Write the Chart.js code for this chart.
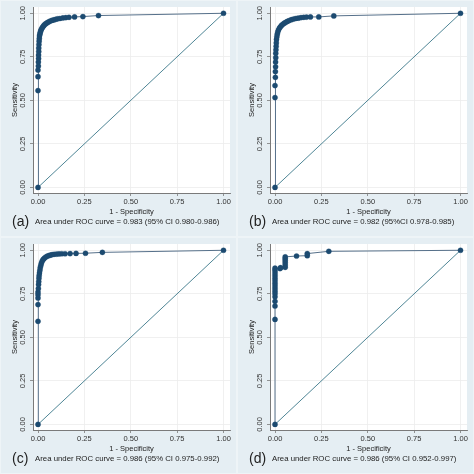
<!DOCTYPE html>
<html><head><meta charset="utf-8">
<script src="https://cdn.jsdelivr.net/npm/chart.js@4.4.0/dist/chart.umd.min.js"></script>
<style>
html,body{margin:0;padding:0;background:#e5eef3;}
#grid{position:relative;width:474px;height:474px;overflow:hidden;}
.panel{position:absolute;width:237px;height:237px;background:#e5eef3;box-sizing:border-box;border:1px solid #eef4f7;}
.panel canvas{position:absolute;left:-1px;top:-1px;}
.lab{position:absolute;left:11px;top:212px;font-family:"Liberation Sans",Arial,sans-serif;font-size:14px;line-height:17px;color:#222;white-space:nowrap;}
.txt{position:absolute;left:34px;top:216px;font-family:"Liberation Sans",Arial,sans-serif;font-size:7.8px;line-height:10px;color:#222;white-space:nowrap;}
</style></head><body>
<div id="grid"></div>
<script>
const tickValues = [0, 0.25, 0.5, 0.75, 1];
const panelLabels = ['(a)', '(b)', '(c)', '(d)'];
const aucCaptions = [
  'Area under ROC curve = 0.983 (95% CI 0.980-0.986)',
  'Area under ROC curve = 0.982 (95%CI 0.978-0.985)',
  'Area under ROC curve = 0.986 (95% CI 0.975-0.992)',
  'Area under ROC curve = 0.986 (95% CI 0.952-0.997)'
];
const diagX = [0, 1];
const diagY = [0, 1];

const fprA = [0, 0, 0, 0, 0.002, 0.002, 0.003, 0.003, 0.004, 0.004, 0.005, 0.006, 0.007, 0.008, 0.010, 0.012, 0.015, 0.018, 0.022, 0.026, 0.031, 0.036, 0.042, 0.050, 0.058, 0.066, 0.075, 0.085, 0.095, 0.105, 0.118, 0.134, 0.150, 0.167, 0.197, 0.242, 0.326, 1];
const tprA = [0, 0.556, 0.636, 0.674, 0.697, 0.720, 0.740, 0.760, 0.780, 0.800, 0.820, 0.840, 0.855, 0.870, 0.880, 0.890, 0.900, 0.908, 0.915, 0.922, 0.929, 0.935, 0.940, 0.946, 0.951, 0.955, 0.959, 0.962, 0.965, 0.968, 0.970, 0.973, 0.975, 0.977, 0.979, 0.981, 0.987, 1];

const fprB = [0, 0, 0, 0.002, 0.002, 0.003, 0.003, 0.004, 0.004, 0.005, 0.006, 0.007, 0.008, 0.010, 0.012, 0.015, 0.019, 0.024, 0.029, 0.035, 0.042, 0.050, 0.058, 0.066, 0.076, 0.088, 0.100, 0.112, 0.125, 0.140, 0.155, 0.170, 0.191, 0.236, 0.317, 1];
const tprB = [0, 0.516, 0.585, 0.632, 0.665, 0.693, 0.720, 0.745, 0.770, 0.790, 0.810, 0.830, 0.850, 0.865, 0.880, 0.893, 0.905, 0.915, 0.922, 0.930, 0.937, 0.943, 0.948, 0.953, 0.958, 0.963, 0.967, 0.970, 0.972, 0.975, 0.977, 0.978, 0.979, 0.979, 0.985, 1];

const fprC = [0, 0, 0, 0, 0, 0, 0.002, 0.003, 0.004, 0.005, 0.006, 0.008, 0.010, 0.012, 0.015, 0.018, 0.022, 0.027, 0.033, 0.040, 0.048, 0.057, 0.066, 0.076, 0.087, 0.100, 0.113, 0.128, 0.146, 0.173, 0.205, 0.256, 0.347, 1];
const tprC = [0, 0.592, 0.688, 0.726, 0.745, 0.760, 0.780, 0.803, 0.820, 0.840, 0.855, 0.870, 0.885, 0.900, 0.912, 0.925, 0.937, 0.946, 0.953, 0.960, 0.965, 0.969, 0.972, 0.975, 0.977, 0.978, 0.979, 0.980, 0.980, 0.981, 0.982, 0.983, 0.988, 1];

const fprD = [0, 0, 0, 0, 0, 0, 0, 0, 0, 0, 0, 0, 0, 0, 0, 0, 0.027, 0.030, 0.055, 0.055, 0.055, 0.055, 0.055, 0.055, 0.116, 0.174, 0.174, 0.290, 1];
const tprD = [0, 0.603, 0.680, 0.707, 0.733, 0.750, 0.765, 0.780, 0.795, 0.810, 0.825, 0.840, 0.855, 0.870, 0.885, 0.897, 0.895, 0.900, 0.902, 0.915, 0.928, 0.940, 0.952, 0.962, 0.967, 0.969, 0.981, 0.994, 1];

const fprSets = [fprA, fprB, fprC, fprD];
const tprSets = [tprA, tprB, tprC, tprD];

const FONT = '"Liberation Sans", Arial, sans-serif';
const toPts = (xs, ys) => xs.map((x, i) => ({x: x, y: ys[i]}));

const plotBg = {
  id: 'plotBg',
  beforeDraw(chart) {
    const a = chart.chartArea;
    const ctx = chart.ctx;
    ctx.save();
    ctx.fillStyle = '#ffffff';
    ctx.fillRect(a.left, a.top, a.right - a.left, a.bottom - a.top);
    ctx.restore();
  }
};

const grid = document.getElementById('grid');
for (let i = 0; i < 4; i++) {
  const p = document.createElement('div');
  p.className = 'panel';
  p.style.left = (i % 2) * 237 + 'px';
  p.style.top = Math.floor(i / 2) * 237 + 'px';
  const c = document.createElement('canvas');
  c.width = 237; c.height = 237;
  c.style.width = '237px'; c.style.height = '237px';
  p.appendChild(c);
  const lab = document.createElement('div');
  lab.className = 'lab'; lab.textContent = panelLabels[i];
  const txt = document.createElement('div');
  txt.className = 'txt'; txt.textContent = aucCaptions[i];
  p.appendChild(lab); p.appendChild(txt);
  grid.appendChild(p);

  new Chart(c, {
    type: 'scatter',
    data: {
      datasets: [
        {
          data: toPts(diagX, diagY),
          showLine: true,
          borderColor: '#4f8696',
          borderWidth: 1,
          pointRadius: 0,
          order: 2
        },
        {
          data: toPts(fprSets[i], tprSets[i]),
          showLine: true,
          borderColor: '#56708a',
          borderWidth: 1,
          pointRadius: 2.6,
          pointBackgroundColor: '#1c4a70',
          pointBorderColor: '#1c4a70',
          pointBorderWidth: 0.3,
          order: 1
        }
      ]
    },
    options: {
      responsive: false,
      animation: false,
      events: [],
      layout: {padding: {left: 0, top: 7, right: 7, bottom: 20}},
      plugins: {legend: {display: false}, tooltip: {enabled: false}},
      scales: {
        x: {
          type: 'linear',
          min: -0.027, max: 1.035,
          afterBuildTicks: s => { s.ticks = tickValues.map(v => ({value: v})); },
          afterFit: s => { s.height = 24; },
          ticks: {autoSkip: false, minRotation: 0, maxRotation: 0, padding: 1, color: '#333', font: {family: FONT, size: 7.5}, callback: v => Number(v).toFixed(2)},
          grid: {color: '#ececec', lineWidth: 0.8, tickLength: 3, tickColor: '#7a7a7a', tickWidth: 0.8},
          border: {display: true, color: '#7a7a7a', width: 1},
          title: {display: true, text: '1 - Specificity', color: '#222', font: {family: FONT, size: 7.5}, padding: {top: 0, bottom: 1}}
        },
        y: {
          type: 'linear',
          min: -0.032, max: 1.036,
          afterBuildTicks: s => { s.ticks = tickValues.map(v => ({value: v})); },
          afterFit: s => { s.width = 33; },
          ticks: {autoSkip: false, minRotation: 90, maxRotation: 90, crossAlign: 'center', padding: 0, color: '#333', font: {family: FONT, size: 7.5}, callback: v => Number(v).toFixed(2)},
          grid: {color: '#ececec', lineWidth: 0.8, tickLength: 3, tickColor: '#7a7a7a', tickWidth: 0.8},
          border: {display: true, color: '#7a7a7a', width: 1},
          title: {display: true, text: 'Sensitivity', color: '#222', font: {family: FONT, size: 7.5}, padding: {top: 10, bottom: 0}}
        }
      }
    },
    plugins: [plotBg]
  });
}
</script>
</body></html>
